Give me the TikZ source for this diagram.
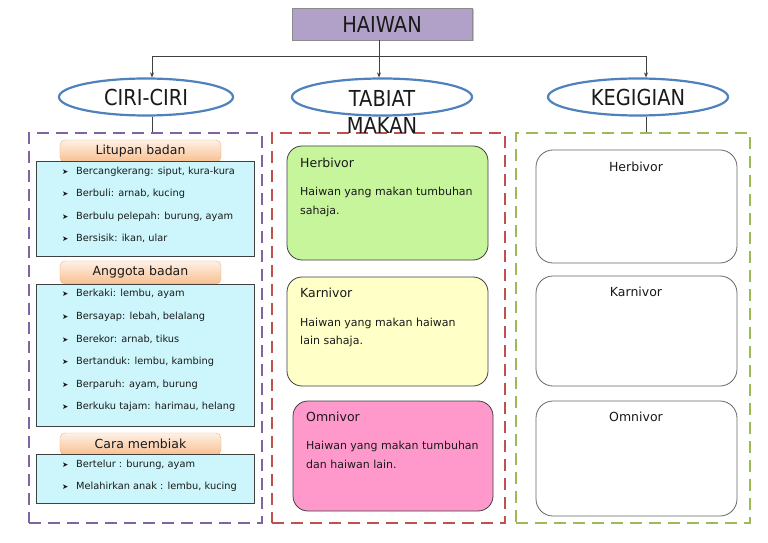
\documentclass[tikz,border=0pt]{standalone}
\usepackage{fontspec}
\setmainfont{DejaVu Sans}
\usetikzlibrary{shapes.geometric,arrows.meta,shadows}
\definecolor{haiwanfill}{HTML}{B1A0C7}
\definecolor{ellblue}{HTML}{4F81BD}
\definecolor{dpurple}{HTML}{8064A2}
\definecolor{dred}{HTML}{C0504D}
\definecolor{dgreen}{HTML}{9BBB59}
\definecolor{cyanfill}{HTML}{CCF6FB}
\definecolor{tabtop}{HTML}{FEF1E6}
\definecolor{tabbot}{HTML}{F9BF8F}
\definecolor{tabedge}{HTML}{E8B48C}
\definecolor{herbfill}{HTML}{C6F59C}
\definecolor{karnfill}{HTML}{FFFFC8}
\definecolor{omnifill}{HTML}{FF99CC}
\definecolor{txt}{HTML}{1A1A1A}
\newcommand\itembul{\makebox[14bp][l]{\fontsize{7.5bp}{8bp}\selectfont ➤}}
\newcommand\tallt[1]{\scalebox{0.97}[1.1]{#1}}
\begin{document}
\begin{tikzpicture}[x=1bp,y=-1bp,
  every node/.style={text=txt},
  big/.style={font=\fontsize{20bp}{24bp}\selectfont},
  ell/.style={ellipse, draw=ellblue, line width=2.2bp, inner sep=0pt, minimum height=37bp},
  dframe/.style={draw, line width=2bp, dash pattern=on 12bp off 7bp, minimum width=233bp, minimum height=390bp, inner sep=0pt},
  tabbox/.style={rectangle, rounded corners=5bp, draw=tabedge, top color=tabtop, bottom color=tabbot, minimum width=161bp, inner sep=0pt, font=\fontsize{12.5bp}{15bp}\selectfont},
  listbox/.style={rectangle, draw=black!75, fill=cyanfill, line width=0.8bp, minimum width=218bp, inner sep=0pt},
  itemtxt/.style={anchor=base west, inner sep=0pt, font=\fontsize{9.8bp}{12bp}\selectfont},
  catbox/.style={rectangle, rounded corners=15bp, draw=black!75, line width=0.8bp, inner sep=0pt},
  cattitle/.style={inner sep=0pt, font=\fontsize{12.5bp}{15bp}\selectfont},
  desctxt/.style={anchor=base west, inner sep=0pt, font=\fontsize{11bp}{14bp}\selectfont},
  conn/.style={draw=black!75, line width=0.8bp},
  arr/.style={conn, -{Stealth[length=5bp,width=4bp]}}
]
\useasboundingbox[fill=white] (0,0) rectangle (768,543);

% top node
\node[rectangle, draw=black!45, fill=haiwanfill, minimum width=180bp, minimum height=32bp, inner sep=0pt, big,
      drop shadow={shadow xshift=1.5bp, shadow yshift=-1.5bp, opacity=0.45}] (haiwan) at (382,24) {\tallt{HAIWAN}};

% ellipses
\node[ell, minimum width=174bp, big] (ciri) at (146,97) {\tallt{CIRI-CIRI}};
\node[ell, minimum width=180bp] (tabiat) at (382,97) {};
\node[ell, minimum width=180bp, big] (keg) at (638,97) {\tallt{KEGIGIAN}};

% dashed frames
\node[dframe, draw=dpurple] (frameL) at (145.5,328) {};
\node[dframe, draw=dred] (frameM) at (388.5,328) {};
\node[dframe, draw=dgreen, minimum width=234bp] (frameR) at (633,328) {};

\node[big, inner sep=0pt] (tabiat1) at (382,98) {\tallt{TABIAT}};
\node[big, inner sep=0pt] (tabiat2) at (382,125) {\tallt{MAKAN}};

% connectors
\coordinate (jL) at (152,56);
\coordinate (jM) at (379,56);
\coordinate (jR) at (646,56);
\draw[conn] (jM |- haiwan.south) -- (jM);
\draw[conn] (jL) -- (jR);
\draw[arr] (jL) -- (jL |- ciri.north);
\draw[arr] (jM) -- (jM |- tabiat.north);
\draw[arr] (jR) -- (jR |- keg.north);
\draw[conn] (jL |- ciri.south) -- (jL |- frameL.north);
\draw[conn] (jR |- keg.south) -- (jR |- frameR.north);

% left column: Litupan badan
\node[tabbox, minimum height=22bp] (tab1) at (140.5,151) {Litupan badan};
\node[listbox, minimum height=95bp] (list1) at (145,208.5) {};
\node[itemtxt] (i11) at (62,174.5) {\itembul Bercangkerang: siput, kura-kura};
\node[itemtxt] (i12) at (62,196.5) {\itembul Berbuli: arnab, kucing};
\node[itemtxt] (i13) at (62,219.5) {\itembul Berbulu pelepah: burung, ayam};
\node[itemtxt] (i14) at (62,242) {\itembul Bersisik: ikan, ular};

% Anggota badan
\node[tabbox, minimum height=23bp] (tab2) at (140.5,272.5) {Anggota badan};
\node[listbox, minimum height=142bp] (list2) at (145,355) {};
\node[itemtxt] (i21) at (62,296.5) {\itembul Berkaki: lembu, ayam};
\node[itemtxt] (i22) at (62,319.5) {\itembul Bersayap: lebah, belalang};
\node[itemtxt] (i23) at (62,342.5) {\itembul Berekor: arnab, tikus};
\node[itemtxt] (i24) at (62,364.5) {\itembul Bertanduk: lembu, kambing};
\node[itemtxt] (i25) at (62,387.5) {\itembul Berparuh: ayam, burung};
\node[itemtxt] (i26) at (62,409.5) {\itembul Berkuku tajam: harimau, helang};

% Cara membiak
\node[tabbox, minimum height=22bp] (tab3) at (140.5,444) {Cara membiak};
\node[listbox, minimum height=49bp] (list3) at (145,478.5) {};
\node[itemtxt] (i31) at (62,467.5) {\itembul Bertelur : burung, ayam};
\node[itemtxt] (i32) at (62,489.5) {\itembul Melahirkan anak : lembu, kucing};

% middle column
\node[catbox, fill=herbfill, minimum width=201bp, minimum height=114bp] (herb) at (387.5,203) {};
\node[cattitle, anchor=base west] (herbT) at (300,167.5) {Herbivor};
\node[desctxt] (herbD1) at (300,195.5) {Haiwan yang makan tumbuhan};
\node[desctxt] (herbD2) at (300,214.5) {sahaja.};

\node[catbox, fill=karnfill, minimum width=201bp, minimum height=109bp] (karn) at (387.5,331.5) {};
\node[cattitle, anchor=base west] (karnT) at (300,297.5) {Karnivor};
\node[desctxt] (karnD1) at (300,326.5) {Haiwan yang makan haiwan};
\node[desctxt] (karnD2) at (300,344.5) {lain sahaja.};

\node[catbox, fill=omnifill, minimum width=200bp, minimum height=110bp] (omni) at (393,456) {};
\node[cattitle, anchor=base west] (omniT) at (306,421.5) {Omnivor};
\node[desctxt] (omniD1) at (306,449.5) {Haiwan yang makan tumbuhan};
\node[desctxt] (omniD2) at (306,468.5) {dan haiwan lain.};

% right column
\node[catbox, rounded corners=17bp, draw=black!60, fill=white, minimum width=201bp, minimum height=113bp] (rherb) at (636.5,206.5) {};
\node[cattitle, anchor=base] (rherbT) at (636,171.5) {Herbivor};
\node[catbox, rounded corners=17bp, draw=black!60, fill=white, minimum width=201bp, minimum height=110bp] (rkarn) at (636.5,331) {};
\node[cattitle, anchor=base] (rkarnT) at (636,296.5) {Karnivor};
\node[catbox, rounded corners=17bp, draw=black!60, fill=white, minimum width=201bp, minimum height=115bp] (romni) at (636.5,458.5) {};
\node[cattitle, anchor=base] (romniT) at (636,421.5) {Omnivor};
\end{tikzpicture}
\end{document}
